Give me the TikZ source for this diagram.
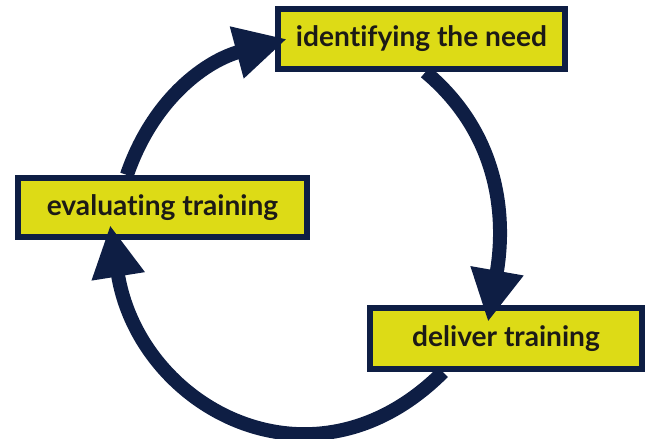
\documentclass[tikz,border=0pt]{standalone}
\usepackage{fontspec}
\setmainfont[Ligatures=CommonOff]{Lato}
\usetikzlibrary{arrows.meta}

\definecolor{stageyellow}{RGB}{221,219,22}
\definecolor{cyclenavy}{RGB}{14,30,68}
\definecolor{stagetext}{RGB}{28,26,22}

\begin{document}
\begin{tikzpicture}[x=0.025cm, y=-0.025cm,
  stage/.style={rectangle, draw=cyclenavy, fill=stageyellow, line width=0.15cm, text=stagetext, font=\fontsize{20}{22}\selectfont\bfseries, inner sep=0pt},
  loopflow/.style={draw=cyclenavy, line width=0.35cm, -{Triangle[length=1.3cm, width=1.25cm]}}]

\useasboundingbox (0,0) rectangle (645,439);

\node at (421.5,39) [stage, minimum width=7.175cm, minimum height=1.5cm] (need) {identifying the need};
\node at (162.5,207.5) [stage, minimum width=7.225cm, minimum height=1.475cm] (eval) {evaluating training};
\node at (506,338.5) [stage, minimum width=6.8cm, minimum height=1.525cm] (deliver) {deliver training};

% the training cycle
\draw[loopflow] ([xshift=-0.89cm]eval.north) to[out=71, in=195] ([xshift=0.3cm]need.west);
\draw[loopflow] ([xshift=0.1cm]need.south) to[out=-40, in=80] ([xshift=-0.45cm, yshift=-0.425cm]deliver.north);
\draw[loopflow] ([xshift=-1.575cm]deliver.south) to[out=-135, in=-81, looseness=1.3] ([xshift=-1.31cm, yshift=0.375cm]eval.south);

\end{tikzpicture}
\end{document}
